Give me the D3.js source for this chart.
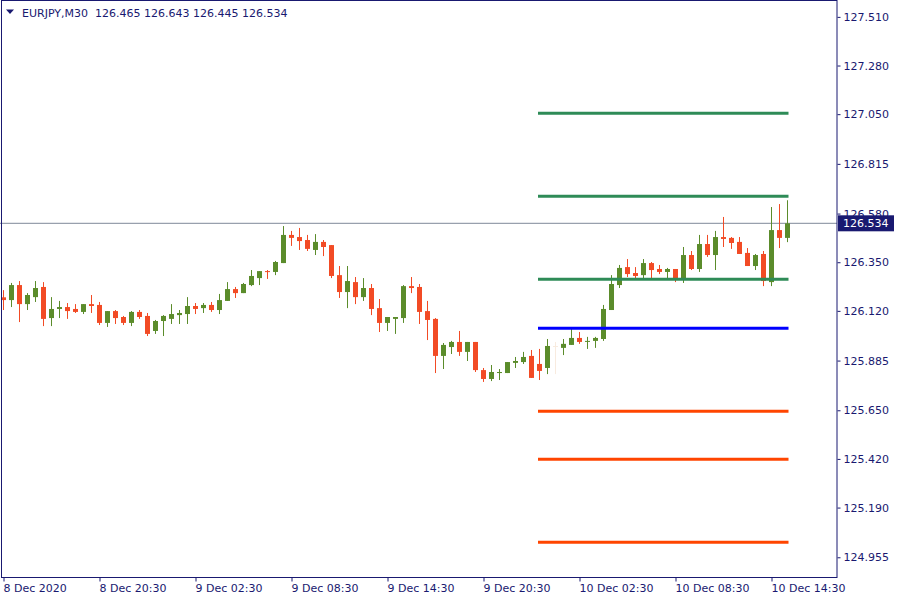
<!DOCTYPE html>
<html>
<head>
<meta charset="utf-8">
<script src="https://cdn.jsdelivr.net/npm/d3@7"></script>
<style>
  html, body { margin: 0; padding: 0; background: #ffffff; }
  svg { display: block; font-family: "DejaVu Sans", Verdana, sans-serif; }
</style>
</head>
<body>
<svg id="chart" width="900" height="600"></svg>
<script>
// ---- data ----
const symbol = "EURJPY,M30";
const lastBar = [126.465, 126.643, 126.445, 126.534];
const currentPrice = 126.534;

const openP = [
126.184,126.171,126.242,126.152,126.185,126.233,126.086,126.129,126.138,126.129,
126.115,126.152,126.148,126.063,126.119,126.091,126.063,126.115,126.096,126.025,
126.072,126.082,126.100,126.105,126.143,126.133,126.148,126.124,126.167,126.223,
126.204,126.242,126.275,126.308,126.304,126.346,126.479,126.469,126.455,126.408,
126.446,126.431,126.289,126.209,126.256,126.185,126.228,126.133,126.063,126.082,
126.086,126.237,126.233,126.119,126.082,125.907,125.949,125.973,125.926,125.973,
125.840,125.798,125.826,125.826,125.874,125.878,125.907,125.869,125.850,125.954,
125.945,125.959,125.992,125.978,125.978,125.987,126.124,126.242,126.327,126.299,
126.289,126.346,126.318,126.304,126.318,126.271,126.384,126.318,126.436,126.384,
126.469,126.465,126.446,126.394,126.332,126.389,126.256,126.502,126.465];

const highP = [
126.218,126.252,126.261,126.204,126.261,126.256,126.185,126.167,126.157,126.152,
126.152,126.195,126.162,126.119,126.124,126.096,126.119,126.124,126.110,126.077,
126.100,126.152,126.124,126.185,126.157,126.157,126.162,126.200,126.256,126.233,
126.252,126.313,126.308,126.313,126.356,126.521,126.498,126.512,126.479,126.483,
126.455,126.431,126.332,126.332,126.280,126.275,126.247,126.176,126.091,126.091,
126.242,126.280,126.247,126.167,126.086,125.968,125.978,126.025,125.973,125.973,
125.850,125.864,125.845,125.878,125.902,125.926,125.935,125.940,125.987,125.973,
125.987,126.034,126.020,125.997,125.997,126.148,126.289,126.337,126.365,126.327,
126.365,126.351,126.337,126.323,126.318,126.422,126.403,126.479,126.479,126.498,
126.564,126.469,126.469,126.417,126.389,126.403,126.611,126.625,126.643];

const lowP = [
126.124,126.138,126.067,126.124,126.162,126.048,126.048,126.086,126.082,126.110,
126.105,126.110,126.053,126.044,126.058,126.053,126.048,126.082,126.001,126.011,
126.001,126.058,126.058,126.058,126.105,126.110,126.115,126.105,126.167,126.181,
126.204,126.237,126.242,126.271,126.289,126.346,126.427,126.408,126.403,126.384,
126.379,126.275,126.181,126.133,126.152,126.167,126.100,126.020,126.025,126.011,
126.063,126.204,126.058,125.982,125.826,125.845,125.916,125.907,125.883,125.831,
125.784,125.788,125.793,125.826,125.850,125.869,125.803,125.793,125.821,125.821,
125.911,125.959,125.964,125.940,125.945,125.978,126.124,126.228,126.280,126.271,
126.275,126.275,126.294,126.266,126.256,126.252,126.313,126.304,126.375,126.313,
126.422,126.413,126.389,126.332,126.313,126.237,126.237,126.417,126.445];

const closeP = [
126.171,126.242,126.152,126.195,126.228,126.082,126.129,126.138,126.119,126.115,
126.152,126.143,126.063,126.119,126.086,126.063,126.115,126.091,126.011,126.072,
126.096,126.105,126.110,126.143,126.129,126.148,126.124,126.171,126.223,126.204,
126.247,126.285,126.308,126.304,126.351,126.479,126.465,126.450,126.413,126.446,
126.422,126.285,126.209,126.261,126.185,126.228,126.129,126.063,126.091,126.091,
126.237,126.228,126.115,126.077,125.907,125.959,125.973,125.926,125.973,125.840,
125.798,125.831,125.831,125.878,125.883,125.902,125.803,125.836,125.954,125.954,
125.964,125.992,125.973,125.978,125.992,126.129,126.247,126.323,126.294,126.285,
126.346,126.313,126.304,126.318,126.271,126.384,126.318,126.436,126.384,126.469,
126.460,126.441,126.389,126.332,126.384,126.261,126.502,126.465,126.534];

// bar drawn in a faint colour in the reference
const ghostBars = [69];

// horizontal level lines (pivot levels)
const levelValues = [127.054, 126.662, 126.269, 126.038, 125.645, 125.418, 125.026];
const levelKinds  = ["r", "r", "r", "p", "s", "s", "s"];
const levelFrom = 67, levelTo = 98;

// axes
const priceTicks = [127.510, 127.280, 127.050, 126.815, 126.580, 126.350, 126.120,
                    125.885, 125.650, 125.420, 125.190, 124.955];
const timeTickIndex  = [0, 12, 24, 36, 48, 60, 72, 84, 96];
const timeTickLabels = ["8 Dec 2020", "8 Dec 20:30", "9 Dec 02:30", "9 Dec 08:30",
                        "9 Dec 14:30", "9 Dec 20:30", "10 Dec 02:30", "10 Dec 08:30",
                        "10 Dec 14:30"];
const priceTop = 127.5898, priceBottom = 124.8617;

// ---- drawing ----
const NAVY = "#191970";
const BULL = "#5b8c2b", BEAR = "#f24b25", GHOST = "#f8ebdf";
const levelColor = { r: "#2e8b57", p: "#0000ff", s: "#ff4500" };

const svg = d3.select("#chart");
const plotW = 837, plotH = 577;
const n = openP.length;

const x = d3.scaleLinear().domain([0, n - 1]).range([3.5, 3.5 + 8 * (n - 1)]);
const y = d3.scaleLinear().domain([priceTop, priceBottom]).range([0, plotH]);

svg.append("rect").attr("width", 900).attr("height", 600).attr("fill", "#fff");

const bars = d3.range(n).map(i => ({
  i, o: openP[i], h: highP[i], l: lowP[i], c: closeP[i], ghost: ghostBars.includes(i)
}));

const plot = svg.append("g");

// current price line
plot.append("line")
  .attr("x1", 0).attr("x2", plotW)
  .attr("y1", y(currentPrice)).attr("y2", y(currentPrice))
  .attr("stroke", "#7f8999").attr("stroke-width", 1);

const col = d => d.ghost ? GHOST : (d.c >= d.o ? BULL : BEAR);

const cg = plot.append("g").selectAll("g").data(bars).join("g");
cg.append("line")
  .attr("x1", d => x(d.i)).attr("x2", d => x(d.i))
  .attr("y1", d => y(d.h)).attr("y2", d => y(d.l))
  .attr("stroke", col).attr("stroke-width", 1);
cg.append("rect")
  .attr("x", d => x(d.i) - 2.5)
  .attr("width", 5)
  .attr("y", d => Math.min(y(d.o), y(d.c)))
  .attr("height", d => Math.max(1, Math.abs(y(d.o) - y(d.c))))
  .attr("fill", col);

// level lines
plot.append("g").selectAll("line").data(levelValues).join("line")
  .attr("x1", x(levelFrom) - 1.5).attr("x2", x(levelTo) + 1)
  .attr("y1", d => y(d)).attr("y2", d => y(d))
  .attr("stroke", (d, k) => levelColor[levelKinds[k]])
  .attr("stroke-width", 3);

// frame
svg.append("rect")
  .attr("x", 1.5).attr("y", 0.5).attr("width", plotW - 1.5).attr("height", plotH)
  .attr("fill", "none").attr("stroke", NAVY).attr("stroke-width", 1);

// right axis
const yAxis = d3.axisRight(y).tickValues(priceTicks).tickFormat(d3.format(".3f"))
  .tickSize(3).tickPadding(3);
const ya = svg.append("g").attr("transform", `translate(${plotW + 0.5},0)`).call(yAxis);
ya.select(".domain").remove();
ya.selectAll("line").attr("stroke", NAVY);
ya.selectAll("text").attr("fill", NAVY).attr("font-size", 11)
  .attr("font-family", "DejaVu Sans, Verdana, sans-serif");

// bottom axis
const xAxis = d3.axisBottom(x).tickValues(timeTickIndex)
  .tickFormat((d, k) => timeTickLabels[k]).tickSize(4).tickPadding(3);
const xa = svg.append("g").attr("transform", `translate(0,${plotH + 0.5})`).call(xAxis);
xa.select(".domain").remove();
xa.selectAll("line").attr("stroke", NAVY);
xa.selectAll("text").attr("fill", NAVY).attr("font-size", 11)
  .attr("text-anchor", "start").attr("dx", "-0.5")
  .attr("font-family", "DejaVu Sans, Verdana, sans-serif");

// current price label
const cy = y(currentPrice);
svg.append("rect").attr("x", plotW + 1).attr("y", cy - 8).attr("width", 56).attr("height", 16)
  .attr("fill", NAVY);
svg.append("text").attr("x", plotW + 6).attr("y", cy).attr("dy", "0.36em")
  .attr("fill", "#ffffff").attr("font-size", 11).text(d3.format(".3f")(currentPrice));

// header
svg.append("path").attr("d", "M6,9.5 L14,9.5 L10,14 Z").attr("fill", NAVY);
svg.append("text").attr("x", 22).attr("y", 17)
  .attr("fill", NAVY).attr("font-size", 11).style("white-space", "pre")
  .text(symbol + "  " + lastBar.map(d3.format(".3f")).join(" "));
</script>
</body>
</html>
